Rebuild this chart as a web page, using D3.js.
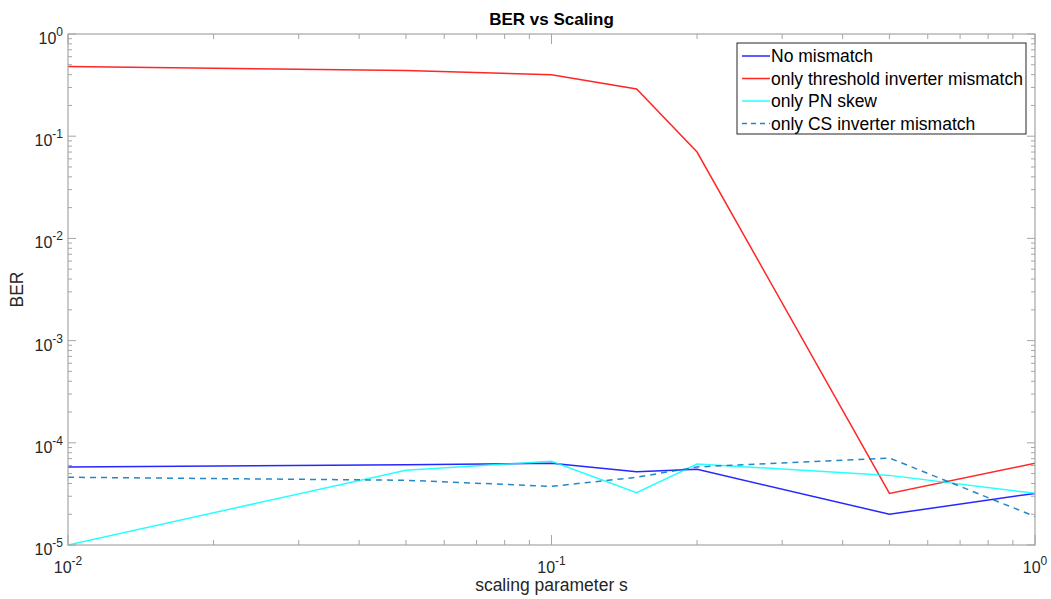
<!DOCTYPE html>
<html><head><meta charset="utf-8">
<script src="https://cdn.jsdelivr.net/npm/d3@7"></script>
<style>body{margin:0;background:#fff}svg{display:block}text{font-family:Arial,"Liberation Sans",Helvetica,sans-serif}</style>
</head><body>
<svg id="c" width="1051" height="599"></svg>
<script>
const scaling = [0.01, 0.05, 0.1, 0.15, 0.2, 0.5, 1];
const noMismatch = [5.8e-5, 6.1e-5, 6.3e-5, 5.2e-5, 5.5e-5, 2.0e-5, 3.2e-5];
const thresholdMismatch = [0.48, 0.44, 0.40, 0.29, 0.07, 3.2e-5, 6.3e-5];
const pnSkew = [1.0e-5, 5.4e-5, 6.6e-5, 3.25e-5, 6.2e-5, 4.8e-5, 3.2e-5];
const csMismatch = [4.6e-5, 4.3e-5, 3.75e-5, 4.6e-5, 5.8e-5, 7.1e-5, 1.9e-5];
const seriesNames = ["No mismatch", "only threshold inverter mismatch", "only PN skew", "only CS inverter mismatch"];
const xTickExp = [-2, -1, 0];
const yTickExp = [0, -1, -2, -3, -4, -5];

const svg = d3.select("#c");
const L = 68, R = 1035, T = 34, B = 545;
const x = d3.scaleLog().domain([0.01, 1]).range([L, R]);
const y = d3.scaleLog().domain([1e-5, 1]).range([B, T]);
const axisCol = "#a6a6a6", textCol = "#262626";

const g = svg.append("g");
function xMinor(){ const a=[]; for(let e=-2;e<0;e++) for(let k=2;k<=9;k++) a.push(k*Math.pow(10,e)); return a; }
function yMinor(){ const a=[]; for(let e=-5;e<0;e++) for(let k=2;k<=9;k++) a.push(k*Math.pow(10,e)); return a; }
xMinor().forEach(v=>{
  g.append("line").attr("x1",x(v)).attr("x2",x(v)).attr("y1",B).attr("y2",B-5).attr("stroke",axisCol);
  g.append("line").attr("x1",x(v)).attr("x2",x(v)).attr("y1",T).attr("y2",T+5).attr("stroke",axisCol);
});
xTickExp.forEach(e=>{ const v=Math.pow(10,e);
  g.append("line").attr("x1",x(v)).attr("x2",x(v)).attr("y1",B).attr("y2",B-10).attr("stroke",axisCol);
  g.append("line").attr("x1",x(v)).attr("x2",x(v)).attr("y1",T).attr("y2",T+10).attr("stroke",axisCol);
});
yMinor().forEach(v=>{
  g.append("line").attr("x1",L).attr("x2",L+4).attr("y1",y(v)).attr("y2",y(v)).attr("stroke",axisCol);
  g.append("line").attr("x1",R).attr("x2",R-4).attr("y1",y(v)).attr("y2",y(v)).attr("stroke",axisCol);
});
yTickExp.forEach(e=>{ const v=Math.pow(10,e);
  g.append("line").attr("x1",L).attr("x2",L+8).attr("y1",y(v)).attr("y2",y(v)).attr("stroke",axisCol);
  g.append("line").attr("x1",R).attr("x2",R-8).attr("y1",y(v)).attr("y2",y(v)).attr("stroke",axisCol);
});

const line = d3.line().x((d,i)=>x(scaling[i])).y(d=>y(d));
const styles = [
  {data:noMismatch, color:"#0000ff", dash:null},
  {data:thresholdMismatch, color:"#ff0000", dash:null},
  {data:pnSkew, color:"#00ffff", dash:null},
  {data:csMismatch, color:"#0072bd", dash:"6,5"}
];
svg.append("clipPath").attr("id","clp").append("rect").attr("x",L).attr("y",T).attr("width",R-L).attr("height",B-T+1);
const lg = svg.append("g").attr("clip-path","url(#clp)");
styles.forEach(s=>{
  lg.append("path").attr("d",line(s.data)).attr("fill","none").attr("stroke",s.color)
    .attr("stroke-width",1.5).attr("stroke-dasharray",s.dash).attr("opacity",0.85);
});

svg.append("rect").attr("x",L).attr("y",T).attr("width",R-L).attr("height",B-T)
  .attr("fill","none").attr("stroke",axisCol).attr("stroke-width",1.2);

xTickExp.forEach(e=>{ const v=Math.pow(10,e);
  const t = svg.append("text").attr("x",x(v)).attr("y",B+28).attr("text-anchor","middle").attr("fill",textCol).attr("font-size",16);
  t.append("tspan").text("10");
  t.append("tspan").attr("dy",-8).attr("font-size",12).text(e);
});
yTickExp.forEach(e=>{ const v=Math.pow(10,e);
  const t = svg.append("text").attr("x",L-5).attr("y",y(v)+10).attr("text-anchor","end").attr("fill",textCol).attr("font-size",16);
  t.append("tspan").text("10");
  t.append("tspan").attr("dy",-8).attr("font-size",12).text(e);
});

svg.append("text").attr("x",(L+R)/2).attr("y",25).attr("text-anchor","middle").attr("font-weight","bold")
  .attr("font-size",17).attr("fill","#000").text("BER vs Scaling");
svg.append("text").attr("x",(L+R)/2).attr("y",591).attr("text-anchor","middle")
  .attr("font-size",17.5).attr("fill",textCol).text("scaling parameter s");
svg.append("text").attr("transform",`translate(23,${(T+B)/2}) rotate(-90)`).attr("text-anchor","middle")
  .attr("font-size",17.5).attr("fill",textCol).text("BER");

const lgx = 737, lgy = 43, lgw = 289, lgh = 91;
svg.append("rect").attr("x",lgx).attr("y",lgy).attr("width",lgw).attr("height",lgh)
  .attr("fill","#fff").attr("stroke","#262626").attr("stroke-width",1);
seriesNames.forEach((n,i)=>{
  const yy = lgy + 13 + i*22.5;
  svg.append("line").attr("x1",lgx+5).attr("x2",lgx+33).attr("y1",yy).attr("y2",yy)
    .attr("stroke",styles[i].color).attr("stroke-width",1.5).attr("stroke-dasharray",styles[i].dash ? "5,4" : null).attr("opacity",0.85);
  svg.append("text").attr("x",lgx+34).attr("y",yy+6).attr("font-size",17.5).attr("fill","#000").text(n);
});
</script>
</body></html>
